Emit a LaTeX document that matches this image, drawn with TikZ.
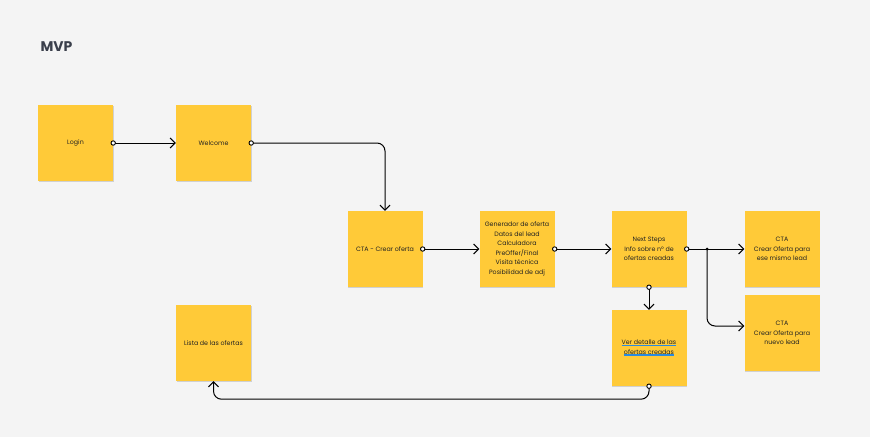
\documentclass[tikz,border=0pt]{standalone}
\usepackage{fontspec}
\setmainfont{Poppins}
\usetikzlibrary{arrows.meta,shadows}
\definecolor{bg}{HTML}{F4F4F4}
\definecolor{sticky}{HTML}{FFCA38}
\definecolor{txt}{HTML}{222222}
\definecolor{ttl}{HTML}{3A3F4B}
\definecolor{lnk}{HTML}{2A8AE0}
\newcommand{\blueul}[1]{\setbox0\hbox{#1}\rlap{\textcolor{lnk}{\rule[-1.6pt]{\wd0}{1.4pt}}}\box0}
\begin{document}
\begin{tikzpicture}[x=1pt,y=-1pt,
  note/.style={fill=sticky, minimum width=75pt, minimum height=76pt, inner sep=0pt,
    align=center, text=txt, font=\fontsize{6.3}{9.5}\selectfont,
    drop shadow={shadow xshift=0.8pt, shadow yshift=-1.2pt, opacity=0.25, fill=black!60}},
  conn/.style={line width=1pt, black, -{Straight Barb[length=5pt,width=10pt,line width=1pt]}},
  startdot/.style={draw=black, line width=0.9pt, fill=white}
]
\useasboundingbox[fill=bg] (0,0) rectangle (870,437);
\node[anchor=west, text=ttl, font=\fontsize{14}{16}\selectfont\bfseries] (title) at (37,47) {MVP};

\node[note] (login) at (75.5,143) {Login};
\node[note] (welcome) at (213.5,143) {Welcome};
\node[note] (cta) at (385,249) {CTA - Crear oferta};
\node[note] (gen) at (517,249) {Generador de oferta\\Datos del lead\\Calculadora\\PreOffer/Final\\Visita técnica\\Posibilidad de adj};
\node[note] (next) at (649,249) {Next Steps\\Info sobre nº de\\ofertas creadas};
\node[note] (cta1) at (782,249) {CTA\\Crear Oferta para\\ese mismo lead};
\node[note] (cta2) at (782,333) {CTA\\Crear Oferta para\\nuevo lead};
\node[note] (ver) at (649,348) {\blueul{Ver detalle de las}\\\blueul{ofertas creadas}};
\node[note] (lista) at (213.5,343) {Lista de las ofertas};

\coordinate (br) at (707,249);
\coordinate (cta2in) at ([yshift=7pt]cta2.west);

\draw[conn] (login.east) -- (welcome.west);
\draw[conn, rounded corners=8pt] (welcome.east) -| (cta.north);
\draw[conn] (cta.east) -- (gen.west);
\draw[conn] (gen.east) -- (next.west);
\draw[conn] (next.east) -- (cta1.west);
\draw[conn, rounded corners=8pt] (br) |- (cta2in);
\draw[conn] (next.south) -- (ver.north);
\draw[conn, rounded corners=8pt] (ver.south) -- ++(0,13) -| (lista.south);
\fill[black] (br) circle[radius=1.5pt];

\foreach \a in {login.east, welcome.east, cta.east, gen.east, next.east, next.south, ver.south}
  \draw[startdot] (\a) circle[radius=2.2pt];
\end{tikzpicture}
\end{document}
